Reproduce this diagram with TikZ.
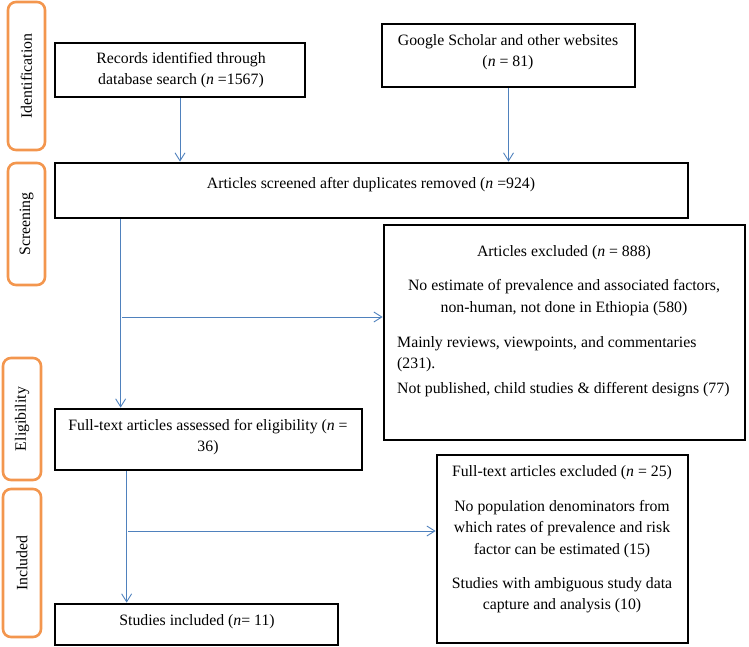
\documentclass[tikz,border=0pt]{standalone}
\usepackage{fontspec}
\setmainfont{Liberation Serif}
\usetikzlibrary{arrows.meta}
\definecolor{orng}{RGB}{243,150,78}
\definecolor{arrblue}{RGB}{79,129,189}
\begin{document}
\begin{tikzpicture}[x=1pt,y=-1pt,
  box/.style={draw=black,line width=2.7pt,inner sep=0pt},
  phase/.style={draw=orng,line width=2.6pt,rounded corners=8pt,inner sep=0pt},
  txt/.style={inner sep=0pt,align=center,font=\fontsize{15.8}{21.5}\selectfont},
  ltxt/.style={inner sep=0pt,align=left,anchor=west,font=\fontsize{15.8}{21.5}\selectfont},
  vtxt/.style={inner sep=0pt,rotate=90,font=\fontsize{15.8}{18}\selectfont},
  arr/.style={draw=arrblue,line width=0.9pt,-{Straight Barb[length=8pt,width=10pt]}}]
\useasboundingbox (0,0) rectangle (749,647);
% phase boxes
\node[phase,minimum width=37pt,minimum height=148pt] (pid) at (26.5,76) {};
\node[phase,minimum width=37pt,minimum height=122pt] (psc) at (26.5,224) {};
\node[phase,minimum width=38pt,minimum height=122pt] (pel) at (22,419) {};
\node[phase,minimum width=38pt,minimum height=148pt] (pin) at (22,563) {};
\node[vtxt] (tid) at (pid.center) {Identification};
\node[vtxt] (tsc) at (psc.center) {Screening};
\node[vtxt] (tel) at (pel.center) {Eligibility};
\node[vtxt] (tin) at (pin.center) {Included};
% boxes
\node[box,minimum width=250pt,minimum height=54pt] (rec) at (180,70) {};
\node[box,minimum width=253pt,minimum height=63pt] (goo) at (508.5,55.5) {};
\node[box,minimum width=633pt,minimum height=55pt] (scr) at (371.5,190.5) {};
\node[box,minimum width=361pt,minimum height=215pt] (exc) at (564.5,332.5) {};
\node[box,minimum width=307pt,minimum height=61pt] (fta) at (208.5,439.5) {};
\node[box,minimum width=251pt,minimum height=188pt] (fte) at (562.5,549) {};
\node[box,minimum width=283pt,minimum height=41pt] (inc) at (196.5,624.5) {};
% texts
\node[txt] (trec) at (181,70) {Records identified through\\database search (\textit{n} =1567)};
\node[txt] (tgoo) at (508,52) {Google Scholar and other websites\\(\textit{n} = 81)};
\node[txt] (tscr) at (371,185) {Articles screened after duplicates removed (\textit{n} =924)};
\node[txt] (texc1) at (564,253) {Articles excluded (\textit{n} = 888)};
\node[txt] (texc2) at (564,297.5) {No estimate of prevalence and associated factors,\\non-human, not done in Ethiopia (580)};
\node[ltxt] (texc3) at (397,354) {Mainly reviews, viewpoints, and commentaries\\(231).};
\node[ltxt] (texc4) at (397,390) {Not published, child studies \& different designs (77)};
\node[txt] (tfta) at (208,437) {Full-text articles assessed for eligibility (\textit{n} =\\36)};
\node[txt] (tfte1) at (562,473) {Full-text articles excluded (\textit{n} = 25)};
\node[txt] (tfte2) at (562,529) {No population denominators from\\which rates of prevalence and risk\\factor can be estimated (15)};
\node[txt] (tfte3) at (562,595) {Studies with ambiguous study data\\capture and analysis (10)};
\node[txt] (tinc) at (197,622) {Studies included (\textit{n}= 11)};
% connectors
\draw[arr] (rec.south) -- (rec.south |- scr.north);
\draw[arr] (goo.south) -- (goo.south |- scr.north);
\coordinate (d1) at ([xshift=67pt]scr.south west);
\coordinate (j1) at (122,317);
\draw[arr] (d1) -- (d1 |- fta.north);
\draw[arr] (j1) -- (j1 -| exc.west);
\coordinate (d2) at ([xshift=73pt]fta.south west);
\coordinate (j2) at (128,531);
\draw[arr] (d2) -- (d2 |- inc.north);
\draw[arr] (j2) -- (j2 -| fte.west);
\end{tikzpicture}
\end{document}
